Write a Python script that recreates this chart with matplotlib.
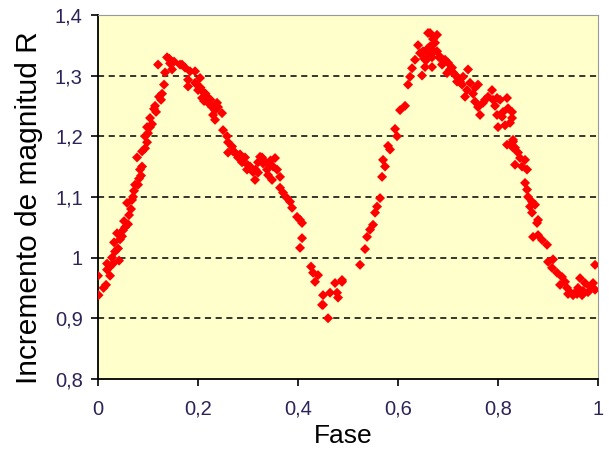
import matplotlib
matplotlib.use("Agg")
import matplotlib.pyplot as plt
from matplotlib.ticker import FuncFormatter

# fase y incremento de magnitud R, leidos a ojo de la curva
fase = [
    0.001, 0.011, 0.000, 0.018, 0.024, 0.018, 0.028, 0.042, 0.034, 0.032,
    0.038, 0.048, 0.054, 0.052, 0.062, 0.058, 0.068, 0.072, 0.074, 0.082,
    0.084, 0.088, 0.078, 0.088, 0.094, 0.098, 0.094, 0.104, 0.098, 0.104,
    0.112, 0.114, 0.122, 0.128, 0.132, 0.134, 0.120, 0.138, 0.144, 0.152,
    0.164, 0.168, 0.174, 0.184, 0.194, 0.180, 0.180, 0.194, 0.204, 0.200,
    0.210, 0.208, 0.218, 0.220, 0.228, 0.234, 0.240, 0.234, 0.248, 0.250,
    0.258, 0.260, 0.268, 0.260, 0.274, 0.284, 0.294, 0.288, 0.298, 0.304,
    0.314, 0.310, 0.320, 0.328, 0.324, 0.334, 0.344, 0.354, 0.340, 0.348,
    0.358, 0.364, 0.364, 0.370, 0.378, 0.384, 0.388, 0.398, 0.404, 0.408,
    0.408, 0.404, 0.426, 0.430, 0.440, 0.434, 0.450, 0.448, 0.464, 0.474,
    0.478, 0.460, 0.488, 0.480, 0.450, 0.488, 0.524, 0.534, 0.538, 0.544,
    0.550, 0.554, 0.558, 0.564, 0.568, 0.574, 0.570, 0.584, 0.580, 0.598,
    0.594, 0.604, 0.614, 0.620, 0.624, 0.628, 0.634, 0.640, 0.644, 0.648,
    0.654, 0.652, 0.660, 0.660, 0.664, 0.678, 0.664, 0.674, 0.660, 0.668,
    0.678, 0.684, 0.694, 0.668, 0.688, 0.700, 0.708, 0.698, 0.714, 0.720,
    0.730, 0.740, 0.728, 0.738, 0.744, 0.754, 0.760, 0.734, 0.754, 0.760,
    0.764, 0.774, 0.788, 0.790, 0.798, 0.804, 0.818, 0.798, 0.808, 0.800,
    0.814, 0.820, 0.828, 0.824, 0.818, 0.830, 0.830, 0.834, 0.828, 0.830,
    0.834, 0.840, 0.844, 0.854, 0.848, 0.858, 0.854, 0.858, 0.860, 0.868,
    0.864, 0.874, 0.868, 0.880, 0.878, 0.870, 0.880, 0.888, 0.898, 0.900,
    0.910, 0.908, 0.918, 0.928, 0.934, 0.924, 0.938, 0.944, 0.954, 0.968,
    0.964, 0.974, 0.984, 0.990, 0.994, 0.980, 0.994,
    0.205, 0.215, 0.225, 0.212, 0.230, 0.238, 0.198, 0.270, 0.280, 0.290,
    0.300, 0.315, 0.320, 0.330, 0.338, 0.345, 0.350, 0.016, 0.024, 0.030,
    0.040, 0.044, 0.050, 0.060, 0.066, 0.070, 0.080, 0.086, 0.100, 0.108,
    0.116, 0.126, 0.142, 0.148, 0.650, 0.656, 0.670, 0.672, 0.682, 0.690,
    0.704, 0.710, 0.718, 0.724, 0.750, 0.770, 0.780, 0.794, 0.810, 0.940,
    0.950, 0.958, 0.970, 0.960,
]
magnitud = [
    0.938, 0.950, 0.970, 0.980, 0.970, 0.990, 1.000, 0.995, 1.010, 1.025,
    1.040, 1.035, 1.050, 1.060, 1.070, 1.090, 1.095, 1.110, 1.120, 1.130,
    1.145, 1.150, 1.165, 1.175, 1.180, 1.190, 1.200, 1.215, 1.215, 1.230,
    1.245, 1.250, 1.265, 1.270, 1.285, 1.305, 1.318, 1.330, 1.320, 1.323,
    1.318, 1.318, 1.313, 1.307, 1.307, 1.293, 1.282, 1.288, 1.296, 1.276,
    1.273, 1.263, 1.265, 1.255, 1.248, 1.243, 1.248, 1.227, 1.238, 1.210,
    1.200, 1.190, 1.183, 1.173, 1.173, 1.170, 1.165, 1.157, 1.145, 1.150,
    1.128, 1.141, 1.157, 1.165, 1.166, 1.158, 1.153, 1.164, 1.136, 1.128,
    1.145, 1.133, 1.115, 1.107, 1.098, 1.092, 1.082, 1.067, 1.062, 1.057,
    1.032, 1.016, 0.985, 0.975, 0.971, 0.960, 0.938, 0.922, 0.942, 0.958,
    0.942, 0.900, 0.963, 0.934, 0.922, 0.960, 0.988, 1.014, 1.034, 1.046,
    1.054, 1.074, 1.084, 1.098, 1.133, 1.150, 1.161, 1.178, 1.184, 1.200,
    1.212, 1.243, 1.250, 1.285, 1.298, 1.312, 1.326, 1.350, 1.337, 1.300,
    1.314, 1.328, 1.345, 1.370, 1.370, 1.367, 1.348, 1.354, 1.337, 1.330,
    1.340, 1.331, 1.326, 1.314, 1.318, 1.321, 1.313, 1.304, 1.301, 1.296,
    1.298, 1.310, 1.285, 1.276, 1.288, 1.280, 1.285, 1.265, 1.257, 1.248,
    1.235, 1.260, 1.276, 1.260, 1.263, 1.260, 1.263, 1.235, 1.232, 1.215,
    1.218, 1.246, 1.230, 1.222, 1.186, 1.181, 1.194, 1.153, 1.240, 1.191,
    1.181, 1.173, 1.164, 1.161, 1.150, 1.145, 1.123, 1.112, 1.100, 1.092,
    1.084, 1.087, 1.074, 1.062, 1.057, 1.034, 1.037, 1.029, 1.021, 0.993,
    0.997, 0.983, 0.975, 0.968, 0.960, 0.955, 0.950, 0.943, 0.942, 0.938,
    0.966, 0.958, 0.952, 0.958, 0.988, 0.943, 0.947,
    1.280, 1.270, 1.260, 1.258, 1.235, 1.255, 1.285, 1.175, 1.165, 1.160,
    1.152, 1.145, 1.140, 1.155, 1.145, 1.160, 1.150, 0.955, 0.985, 0.990,
    1.015, 1.030, 1.045, 1.055, 1.080, 1.100, 1.120, 1.135, 1.205, 1.220,
    1.240, 1.260, 1.328, 1.310, 1.340, 1.325, 1.360, 1.340, 1.330, 1.320,
    1.310, 1.305, 1.290, 1.290, 1.270, 1.255, 1.265, 1.250, 1.240, 0.940,
    0.938, 0.940, 0.945, 0.950,
]

x_ticks = [0, 0.2, 0.4, 0.6, 0.8, 1]
y_ticks = [0.8, 0.9, 1.0, 1.1, 1.2, 1.3, 1.4]

plt.rcParams["font.family"] = ["Liberation Sans", "DejaVu Sans"]

fig = plt.figure(figsize=(6.09, 4.5), dpi=100)
ax = fig.add_axes([0.161, 0.158, 0.821, 0.809])
ax.set_facecolor("#FFFFCC")

for y in y_ticks[1:-1]:
    ax.axhline(y, color="black", lw=1.1, ls=(0, (4, 3)), zorder=1)

ax.scatter(fase, magnitud, marker="D", s=26, color="#FF0000", edgecolors="none", zorder=3)

ax.set_xlim(0, 1)
ax.set_ylim(0.8, 1.4)
ax.set_xticks(x_ticks)
ax.set_yticks(y_ticks)

def coma(v, pos):
    s = "%g" % round(v, 2)
    return s.replace(".", ",")

ax.xaxis.set_major_formatter(FuncFormatter(coma))
ax.yaxis.set_major_formatter(FuncFormatter(coma))
ax.tick_params(direction="out", length=5, width=1.2, labelsize=14.5,
               labelcolor="#2a2458")
ax.tick_params(axis="x", pad=10)
ax.tick_params(axis="y", pad=6)

for side in ["left", "bottom"]:
    ax.spines[side].set_linewidth(1.3)
    ax.spines[side].set_color("black")
for side in ["top", "right"]:
    ax.spines[side].set_linewidth(0.8)
    ax.spines[side].set_color("#9a9a9a")

ax.set_xlabel("Fase", fontsize=19)
ax.set_ylabel("Incremento de magnitud R", fontsize=21.5)
ax.xaxis.set_label_coords(0.49, -0.125)
ax.yaxis.set_label_coords(-0.11, 0.47)

fig.savefig("out.png", dpi=100)
